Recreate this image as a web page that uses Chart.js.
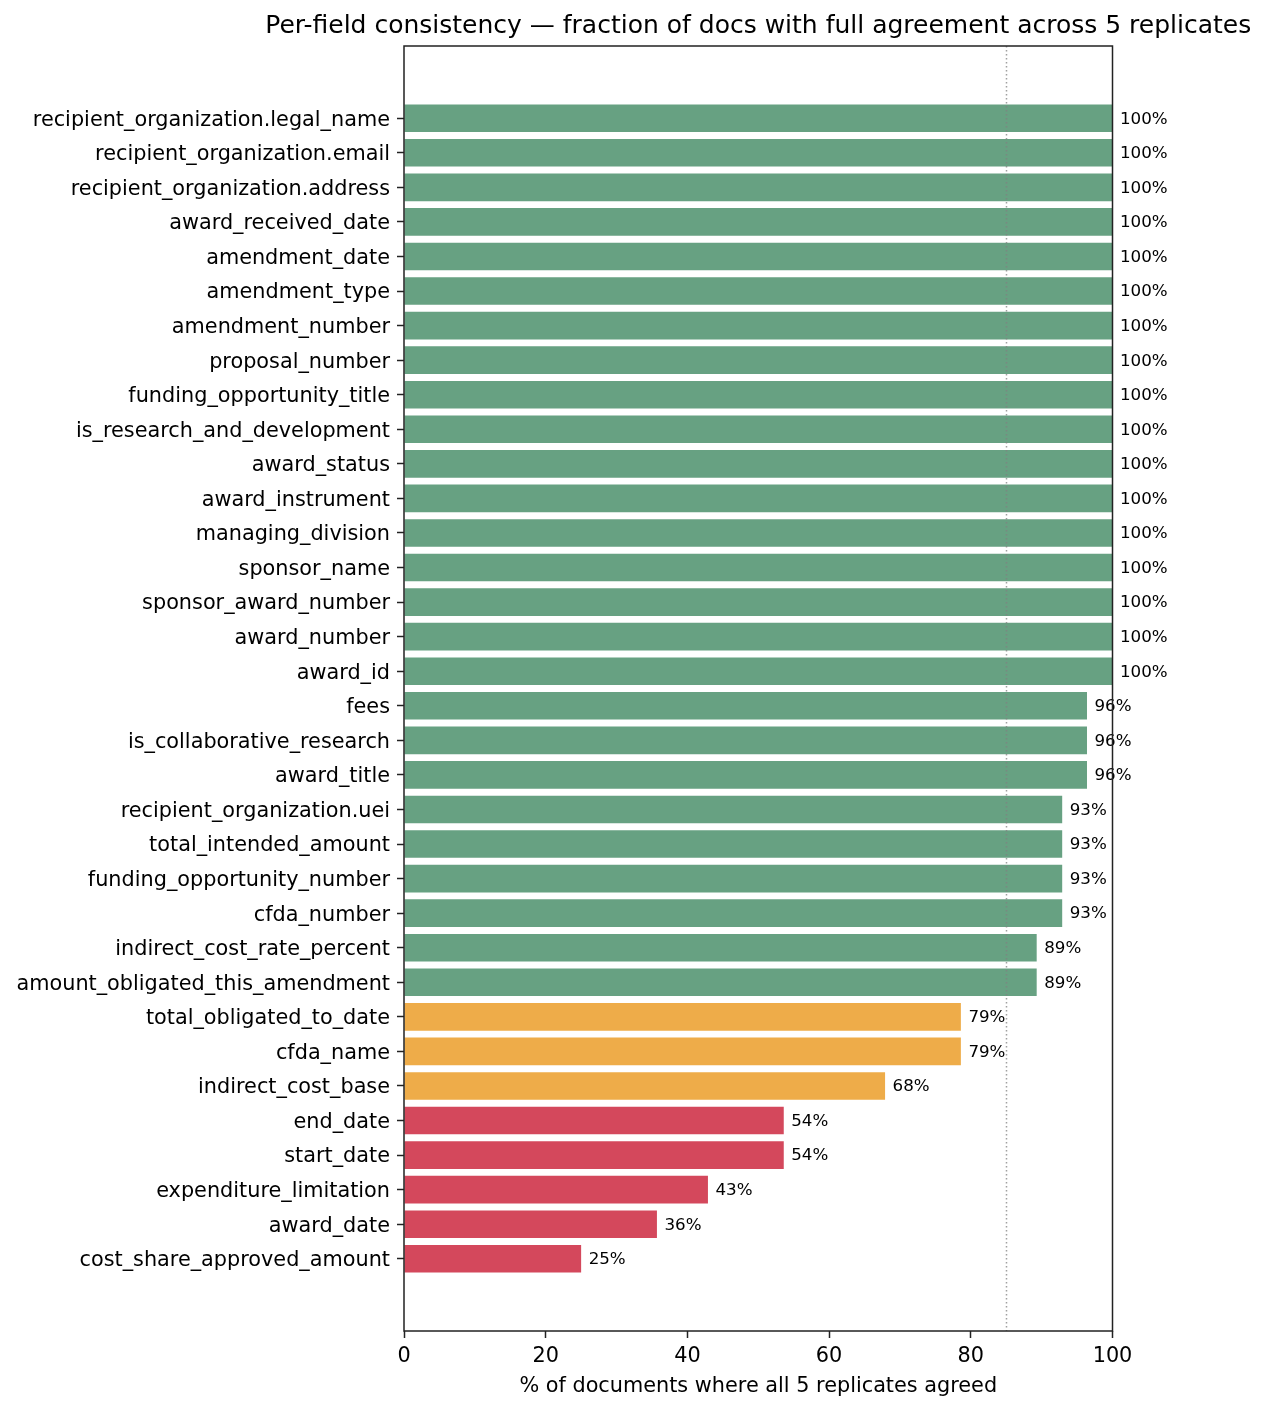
<!DOCTYPE html>
<html>
<head>
<meta charset="utf-8">
<script src="https://cdn.jsdelivr.net/npm/chart.js@4.4.1/dist/chart.umd.min.js"></script>
<style>
  html, body { margin: 0; padding: 0; background: #fff; }
  #wrap { width: 1267px; height: 1410px; position: relative; }
</style>
</head>
<body>
<div id="wrap"><canvas id="chart"></canvas></div>
<script>
// поля сверху вниз
const fields = [
  "recipient_organization.legal_name",
  "recipient_organization.email",
  "recipient_organization.address",
  "award_received_date",
  "amendment_date",
  "amendment_type",
  "amendment_number",
  "proposal_number",
  "funding_opportunity_title",
  "is_research_and_development",
  "award_status",
  "award_instrument",
  "managing_division",
  "sponsor_name",
  "sponsor_award_number",
  "award_number",
  "award_id",
  "fees",
  "is_collaborative_research",
  "award_title",
  "recipient_organization.uei",
  "total_intended_amount",
  "funding_opportunity_number",
  "cfda_number",
  "indirect_cost_rate_percent",
  "amount_obligated_this_amendment",
  "total_obligated_to_date",
  "cfda_name",
  "indirect_cost_base",
  "end_date",
  "start_date",
  "expenditure_limitation",
  "award_date",
  "cost_share_approved_amount",
];

const agreement = [
  100, 100, 100, 100, 100, 100, 100, 100, 100, 100, 100, 100, 100, 100, 100,
  100, 100, 96.4, 96.4, 96.4, 92.9, 92.9, 92.9, 92.9, 89.3, 89.3, 78.6, 78.6,
  67.9, 53.6, 53.6, 42.9, 35.7, 25.0,
];

const xTicks = [0, 20, 40, 60, 80, 100];
const threshold = 85;

const TITLE =
  "Per-field consistency — fraction of docs with full agreement across 5 replicates";

const COLORS = {
  good: "#67a182",
  mid: "#eeac49",
  bad: "#d4485c",
  axis: "#222222",
};

const FONT = "DejaVu Sans";

function barColor(v) {
  if (v >= threshold) return COLORS.good;
  if (v >= 60) return COLORS.mid;
  return COLORS.bad;
}

// заголовок по центру области графика (встроенный сжимает текст)
const titlePlugin = {
  id: "titlePlugin",
  afterDraw(chart) {
    const { ctx, chartArea: a } = chart;
    ctx.save();
    ctx.font = `25px "${FONT}"`;
    ctx.fillStyle = "#000";
    ctx.textAlign = "center";
    ctx.textBaseline = "middle";
    ctx.fillText(TITLE, (a.left + a.right) / 2, 26);
    ctx.restore();
  },
};

// рамка вокруг области графика
const framePlugin = {
  id: "framePlugin",
  afterDraw(chart) {
    const { ctx, chartArea: a } = chart;
    ctx.save();
    ctx.strokeStyle = COLORS.axis;
    ctx.lineWidth = 1.5;
    ctx.strokeRect(a.left, a.top, a.right - a.left, a.bottom - a.top);
    ctx.restore();
  },
};

// пунктир порога
const thresholdPlugin = {
  id: "thresholdPlugin",
  afterDatasetsDraw(chart) {
    const { ctx, chartArea: a, scales } = chart;
    const x = Math.round(scales.x.getPixelForValue(threshold)) + 0.5;
    ctx.save();
    ctx.strokeStyle = "rgba(128, 128, 128, 0.75)";
    ctx.lineWidth = 1.5;
    ctx.setLineDash([1.5, 2.5]);
    ctx.beginPath();
    ctx.moveTo(x, a.top);
    ctx.lineTo(x, a.bottom);
    ctx.stroke();
    ctx.restore();
  },
};

// подписи значений справа от баров
const valueLabelPlugin = {
  id: "valueLabelPlugin",
  afterDatasetsDraw(chart) {
    const { ctx } = chart;
    const meta = chart.getDatasetMeta(0);
    ctx.save();
    ctx.font = `16.7px "${FONT}"`;
    ctx.fillStyle = "#000";
    ctx.textAlign = "left";
    ctx.textBaseline = "middle";
    meta.data.forEach((bar, i) => {
      ctx.fillText(Math.round(agreement[i]) + "%", bar.x + 7.5, bar.y + 1);
    });
    ctx.restore();
  },
};

new Chart(document.getElementById("chart"), {
  type: "bar",
  data: {
    datasets: [
      {
        data: agreement.map((v, i) => ({ x: v, y: i })),
        backgroundColor: agreement.map(barColor),
        borderWidth: 0,
        categoryPercentage: 0.8,
        barPercentage: 1,
      },
    ],
  },
  plugins: [thresholdPlugin, valueLabelPlugin, framePlugin, titlePlugin],
  options: {
    indexAxis: "y",
    responsive: true,
    maintainAspectRatio: false,
    animation: false,
    layout: { padding: { left: 0, right: 154.5, top: 46, bottom: 0 } },
    scales: {
      y: {
        type: "linear",
        reverse: true,
        min: -2.09,
        max: 35.09,
        offset: false,
        afterBuildTicks: (scale) => {
          scale.ticks = fields.map((f, i) => ({ value: i }));
        },
        afterFit: (scale) => {
          scale.width = 404;
        },
        ticks: {
          autoSkip: false,
          padding: 7,
          labelOffset: 2,
          color: "#000",
          font: { family: FONT, size: 20.8 },
          callback: (v) => fields[v],
        },
        grid: {
          offset: false,
          drawOnChartArea: false,
          drawTicks: true,
          tickLength: 7,
          tickWidth: 1.5,
          tickColor: COLORS.axis,
        },
        border: { display: false },
      },
      x: {
        type: "linear",
        min: 0,
        max: 100,
        afterBuildTicks: (scale) => {
          scale.ticks = xTicks.map((v) => ({ value: v }));
        },
        afterFit: (scale) => {
          scale.height = 79;
        },
        ticks: {
          padding: 6,
          color: "#000",
          font: { family: FONT, size: 20.8 },
        },
        grid: {
          drawOnChartArea: false,
          drawTicks: true,
          tickLength: 7,
          tickWidth: 1.5,
          tickColor: COLORS.axis,
        },
        border: { display: false },
        title: {
          display: true,
          text: "% of documents where all 5 replicates agreed",
          color: "#000",
          font: { family: FONT, size: 20.8 },
          padding: { top: 4, bottom: 10.5 },
        },
      },
    },
    plugins: {
      legend: { display: false },
      tooltip: { enabled: false },
      title: { display: false },
    },
  },
});
</script>
</body>
</html>
